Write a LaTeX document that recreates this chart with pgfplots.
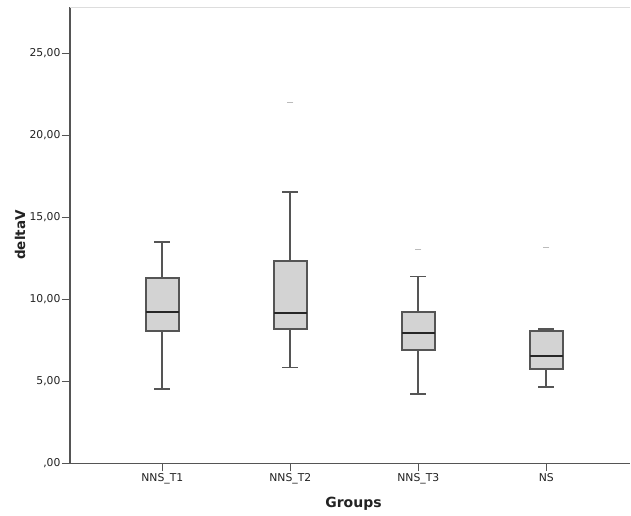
\documentclass[border=0pt]{standalone}
\usepackage{fontspec}
\setmainfont{DejaVu Sans}
\usepackage{pgfplots}
\pgfplotsset{compat=1.18}
\usepgfplotslibrary{statistics}
\definecolor{boxfill}{HTML}{D3D3D3}
\definecolor{boxedge}{HTML}{555555}
\definecolor{axline}{HTML}{555555}
\definecolor{topline}{HTML}{DDDDDD}
\definecolor{outl}{HTML}{BBBBBB}
\definecolor{txt}{HTML}{222222}
\begin{document}
\begin{tikzpicture}
\useasboundingbox (0,0) rectangle (631pt,516pt);
\begin{axis}[
  at={(70pt,52.7pt)}, anchor=south west,
  scale only axis, width=560pt, height=455.8pt,
  xmin=0.279, xmax=4.654, ymin=0, ymax=27.8,
  axis x line*=bottom, axis y line*=left,
  axis line style={color=axline, line width=1.3pt},
  xtick={1,2,3,4},
  xticklabels={NNS\_T1,NNS\_T2,NNS\_T3,NS},
  ytick={0,5,10,15,20,25},
  yticklabels={{,00},{5,00},{10,00},{15,00},{20,00},{25,00}},
  tick align=outside, major tick length=8pt,
  tick style={color=axline, line width=1.2pt},
  ticklabel style={font=\fontsize{10.8}{12}\selectfont, color=txt},
  yticklabel style={xshift=2pt},
  xticklabel style={yshift=1pt},
  clip=false,
  boxplot/draw direction=y,
  boxplot/box extend=0.255,
  boxplot/whisker extend=0.125,
  boxplot/every box/.style={draw=boxedge, fill=boxfill, line width=1.8pt},
  boxplot/every whisker/.style={draw=boxedge, line width=1.7pt},
  boxplot/every median/.style={draw=black!85, line width=2.2pt},
]
\addplot+[mark=-, mark size=3pt, mark options={draw=outl, line width=1.2pt},
  boxplot prepared={draw position=1, lower whisker=4.55, lower quartile=8.09,
  median=9.24, upper quartile=11.30, upper whisker=13.48}] coordinates {};
\addplot+[mark=-, mark size=3pt, mark options={draw=outl, line width=1.2pt},
  boxplot prepared={draw position=2, lower whisker=5.85, lower quartile=8.19,
  median=9.16, upper quartile=12.35, upper whisker=16.54}] coordinates {(2,22.01)};
\addplot+[mark=-, mark size=3pt, mark options={draw=outl, line width=1.2pt},
  boxplot prepared={draw position=3, lower whisker=4.21, lower quartile=6.91,
  median=7.95, upper quartile=9.21, upper whisker=11.40}] coordinates {(3,13.05)};
\addplot+[mark=-, mark size=3pt, mark options={draw=outl, line width=1.2pt},
  boxplot prepared={draw position=4, lower whisker=4.67, lower quartile=5.77,
  median=6.56, upper quartile=8.09, upper whisker=8.19}] coordinates {(4,13.17)};
\draw[topline, line width=1.4pt] (axis description cs:0,1) -- (axis description cs:1,1);
\end{axis}
\node[anchor=base, font=\bfseries\fontsize{14}{16}\selectfont, color=txt] at (353.5pt,8.3pt) {Groups};
\node[anchor=base, rotate=90, font=\bfseries\fontsize{13.5}{16}\selectfont, color=txt] at (25pt,281pt) {deltaV};
\end{tikzpicture}
\end{document}
